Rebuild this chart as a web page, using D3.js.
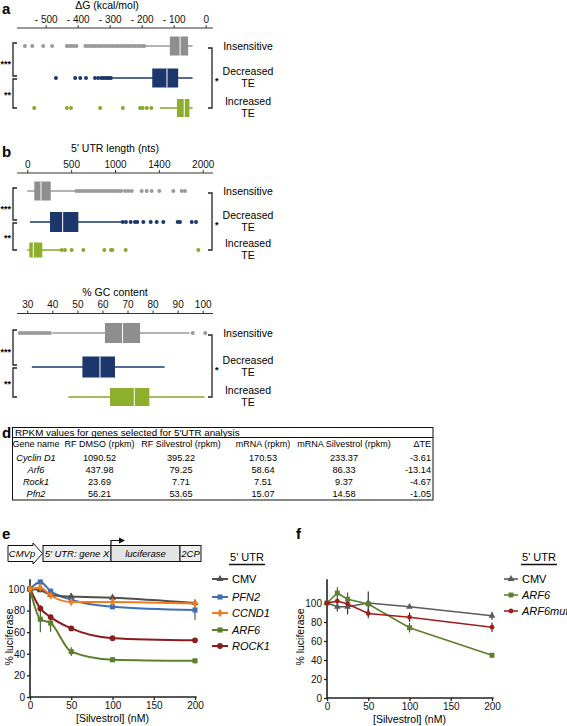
<!DOCTYPE html>
<html><head><meta charset="utf-8">
<script src="https://cdn.jsdelivr.net/npm/d3@7"></script>
<style>
body{margin:0;background:#fff;}
svg{display:block;font-family:"Liberation Sans",Arial,Helvetica,sans-serif;}
</style></head><body>
<svg id="fig" width="567" height="726"></svg>
<script>
// ---------------- DATA ----------------
const groupNames = ["Insensitive", "Decreased TE", "Increased TE"];

// panel a: ΔG (kcal/mol) boxes: [whiskerLow, q1, median, q3, whiskerHigh]
const dGTicks = [-500, -400, -300, -200, -100, 0];
const dGTickLabels = ["- 500", "- 400", "- 300", "- 200", "- 100", "0"];
const dGBoxes = [
  [-188, -112, -80, -55, -41],
  [-290, -167, -121, -86, -41],
  [-143, -90, -67, -51, -41]
];
const dGOutliers = [
  [-565, -542, -508, -480, -434, -427, -420, -412, -404, -376, -368, -360, -352, -345, -337, -330, -322, -314, -306, -298, -290, -282, -275, -267, -259, -251, -243, -236, -228, -220, -212, -205, -197, -192],
  [-468, -408, -392, -374, -346, -336, -326, -320, -314, -308, -302, -296],
  [-536, -434, -421, -330, -259, -205, -197, -184, -170]
];

// panel b: 5' UTR length (nts)
const lenTicks = [0, 500, 1000, 1500, 2000];
const lenTickLabels = ["0", "500", "1000", "1400", "2000"];
const lenBoxes = [
  [0, 80, 156, 267, 544],
  [31, 259, 403, 582, 1076],
  [0, 23, 68, 171, 373]
];
const lenOutliers = [
  [560, 590, 620, 650, 680, 710, 740, 770, 800, 830, 860, 890, 920, 950, 980, 1010, 1040, 1070, 1115, 1152, 1190, 1304, 1361, 1418, 1505, 1665, 1760, 1798],
  [1088, 1125, 1179, 1228, 1254, 1323, 1407, 1475, 1551, 1715, 1741, 1875, 1924],
  [392, 430, 506, 639, 878, 954, 969, 1122, 1950]
];

// % GC content
const gcTicks = [30, 40, 50, 60, 70, 80, 90, 100];
const gcTickLabels = ["30", "40", "50", "60", "70", "80", "90", "100"];
const gcBoxes = [
  [40, 61, 68, 75, 94.7],
  [31.8, 52, 59, 65, 84.8],
  [46.4, 63, 72.7, 78.7, 100.7]
];
const gcOutliers = [
  [27, 28, 29, 30, 31, 32, 33, 34, 35, 36, 37, 38, 39, 96, 101],
  [],
  []
];
const leftStars = ["***", "**"];
const rightStar = "*";

// panel d: table
const tableTitle = "RPKM values for genes selected for 5'UTR analysis";
const tableHeader = ["Gene name", "RF DMSO (rpkm)", "RF Silvestrol (rpkm)", "mRNA (rpkm)", "mRNA Silvestrol (rpkm)", "ΔTE"];
const geneNames = ["Cyclin D1", "Arf6", "Rock1", "Pfn2"];
const rfDMSO = [1090.52, 437.98, 23.69, 56.21];
const rfSilvestrol = [395.22, 79.25, 7.71, 53.65];
const mRNA = [170.53, 58.64, 7.51, 15.07];
const mRNASilvestrol = [233.37, 86.33, 9.37, 14.58];
const deltaTE = [-3.61, -13.14, -4.67, -1.05];

// panel e / f: luciferase vs silvestrol
const conc = [0, 12.5, 25, 50, 100, 200];
const concTicks = [0, 50, 100, 150, 200];
const pctTicks = [0, 20, 40, 60, 80, 100];
const eNames = ["CMV", "PFN2", "CCND1", "ARF6", "ROCK1"];
const eCMV = [100, 99, 94.5, 93, 92, 87];
const ePFN2 = [100, 106.5, 98, 90, 83.5, 80.5];
const eCCND1 = [100, 101.5, 94, 88, 88, 86.5];
const eARF6 = [100, 72, 68.5, 42, 34.5, 33.5];
const eROCK1 = [100, 82, 74, 63.5, 54.5, 52.5];
const eCMVErr = [0, 2, 2, 3, 2, 3];
const ePFN2Err = [0, 2, 2, 1.5, 2, 9];
const eCCND1Err = [0, 1.5, 1.5, 1.5, 1.5, 2];
const eARF6Err = [0, 12, 8, 4, 2, 2];
const eROCK1Err = [0, 3, 2, 1.5, 1.5, 1.5];

const fNames = ["CMV", "ARF6", "ARF6mut"];
const fCMV = [100, 96, 96, 100, 96, 86.5];
const fARF6 = [100, 110.5, 104, 99, 74, 45];
const fARF6mut = [100, 102, 99, 89, 85, 74.5];
const fCMVErr = [0, 5, 8, 12, 1.5, 4];
const fARF6Err = [0, 6, 7, 1.5, 5, 2.5];
const fARF6mutErr = [0, 3, 3, 5, 5, 5];

// ---------------- STYLE ----------------
const FONT = '"Liberation Sans", Arial, Helvetica, sans-serif';
const boxColors = ["#8e8e8e", "#1c376c", "#8cb02c"];
const whiskColors = ["#9a9a9a", "#1c376c", "#86a92a"];
const svg = d3.select("#fig");

function letter(t, x, y) {
  svg.append("text").attr("x", x).attr("y", y).attr("font-size", 15)
    .attr("font-weight", "bold").text(t);
}

// ---------------- BOX PANELS ----------------
function boxPanel(cfg) {
  const g = svg.append("g");
  const x = d3.scaleLinear().domain(cfg.domain).range(cfg.range);
  g.append("text").attr("x", cfg.titleX).attr("y", cfg.titleY).attr("text-anchor", "middle")
    .attr("font-size", 10.5).text(cfg.title);
  const ax = g.append("g").attr("transform", `translate(0,${cfg.axisY})`)
    .call(d3.axisTop(x).tickValues(cfg.ticks).tickFormat((d, i) => cfg.labels[i]).tickSize(3).tickPadding(2.5));
  ax.select(".domain").remove();
  ax.selectAll("text").attr("font-size", 10).attr("font-family", FONT).attr("fill", "#111");
  ax.selectAll("line").attr("stroke", "#333");
  g.append("line").attr("x1", 17).attr("x2", 213).attr("y1", cfg.axisY).attr("y2", cfg.axisY)
    .attr("stroke", "#333").attr("stroke-width", 1);

  cfg.rows.forEach((ry, i) => {
    const b = cfg.boxes[i], h = cfg.heights[i];
    g.append("line").attr("x1", x(b[0])).attr("x2", x(b[4])).attr("y1", ry).attr("y2", ry)
      .attr("stroke", whiskColors[i]).attr("stroke-width", 1.6);
    g.selectAll(null).data(cfg.outliers[i]).join("circle")
      .attr("cx", d => x(d)).attr("cy", ry).attr("r", 2).attr("fill", whiskColors[i]);
    g.append("rect").attr("x", x(b[1])).attr("y", ry - h / 2).attr("width", x(b[3]) - x(b[1]))
      .attr("height", h).attr("fill", boxColors[i]);
    g.append("line").attr("x1", x(b[2])).attr("x2", x(b[2])).attr("y1", ry - h / 2).attr("y2", ry + h / 2)
      .attr("stroke", "#fff").attr("stroke-width", 1);
  });
  // row labels
  const lx = 248;
  g.append("text").attr("x", lx).attr("y", cfg.rows[0] + 3.8).attr("text-anchor", "middle").attr("font-size", 10.5).text(groupNames[0]);
  [1, 2].forEach(i => {
    const parts = groupNames[i].split(" ");
    g.append("text").attr("x", lx).attr("y", cfg.rows[i] - 7 + 3.8).attr("text-anchor", "middle").attr("font-size", 10.5).text(parts[0]);
    g.append("text").attr("x", lx).attr("y", cfg.rows[i] + 5 + 3.8).attr("text-anchor", "middle").attr("font-size", 10.5).text(parts[1]);
  });
  // brackets
  const r = cfg.rows;
  const br = (x0, y0, y1, dir) => {
    g.append("path").attr("d", `M${x0 + dir * 4},${y0}H${x0}V${y1}H${x0 + dir * 4}`)
      .attr("fill", "none").attr("stroke", "#222").attr("stroke-width", 1.3);
  };
  br(13, r[0] - 3, r[1] - 2, 1);
  br(13, r[1] + 1, r[2], 1);
  g.append("text").attr("x", 11).attr("y", (r[0] + r[1]) / 2 + 5).attr("text-anchor", "end")
    .attr("font-size", 9).attr("font-weight", "bold").text(leftStars[0]);
  g.append("text").attr("x", 11).attr("y", (r[1] + r[2]) / 2 + 5).attr("text-anchor", "end")
    .attr("font-size", 9).attr("font-weight", "bold").text(leftStars[1]);
  br(212, r[0] + 2, r[2], -1);
  g.append("text").attr("x", 215).attr("y", r[1] + 6).attr("font-size", 9)
    .attr("font-weight", "bold").text(rightStar);
}

letter("a", 2, 14);
boxPanel({
  domain: [-500, 0], range: [45.7, 205.7], ticks: dGTicks, labels: dGTickLabels,
  title: "ΔG (kcal/mol)", titleX: 107, titleY: 9, axisY: 28, rows: [46, 78, 108], heights: [19, 19, 18],
  boxes: dGBoxes, outliers: dGOutliers
});
letter("b", 2, 157);
boxPanel({
  domain: [0, 2000], range: [27.3, 202.7], ticks: lenTicks, labels: lenTickLabels,
  title: "5' UTR length (nts)", titleX: 115, titleY: 152, axisY: 173, rows: [191, 222, 250], heights: [19, 20, 15],
  boxes: lenBoxes, outliers: lenOutliers
});
boxPanel({
  domain: [30, 100], range: [27.3, 202.7], ticks: gcTicks, labels: gcTickLabels,
  title: "% GC content", titleX: 115, titleY: 296, axisY: 313.5, rows: [333, 367, 397], heights: [20, 21, 18],
  boxes: gcBoxes, outliers: gcOutliers
});

// ---------------- TABLE ----------------
letter("d", 2, 438);
(function () {
  const g = svg.append("g");
  const fmt = v => v.toFixed(2);
  const colX = [36, 99.5, 181, 263, 344, 431];
  const anchors = ["middle", "middle", "middle", "middle", "middle", "end"];
  g.append("rect").attr("x", 12.5).attr("y", 427.5).attr("width", 420.5).attr("height", 72.5)
    .attr("fill", "none").attr("stroke", "#111").attr("stroke-width", 1);
  g.append("line").attr("x1", 12.5).attr("x2", 433).attr("y1", 437.5).attr("y2", 437.5)
    .attr("stroke", "#111").attr("stroke-width", 1);
  g.append("text").attr("x", 15).attr("y", 435.5).attr("font-size", 9.8).text(tableTitle);
  tableHeader.forEach((h, i) => {
    g.append("text").attr("x", colX[i]).attr("y", 446.5).attr("text-anchor", anchors[i])
      .attr("font-size", 9).text(h);
  });
  const cols = [geneNames, rfDMSO, rfSilvestrol, mRNA, mRNASilvestrol, deltaTE];
  geneNames.forEach((gn, r) => {
    const y = 458 + r * 11.9 + 3.3;
    cols.forEach((c, i) => {
      g.append("text").attr("x", colX[i]).attr("y", y).attr("text-anchor", anchors[i])
        .attr("font-size", 9.2).attr("font-style", i === 0 ? "italic" : "normal")
        .text(i === 0 ? c[r] : fmt(c[r]));
    });
  });
})();

// ---------------- LINE PANELS ----------------
function linePanel(cfg) {
  const g = svg.append("g");
  const x = d3.scaleLinear().domain([0, 200]).range(cfg.xr);
  const y = d3.scaleLinear().domain([0, 100]).range(cfg.yr);
  const xa = g.append("g").attr("transform", `translate(0,${cfg.yr[0]})`)
    .call(d3.axisBottom(x).tickValues(concTicks).tickSize(3).tickPadding(2));
  const ya = g.append("g").attr("transform", `translate(${cfg.xr[0]},0)`)
    .call(d3.axisLeft(y).tickValues(pctTicks).tickSize(3).tickPadding(2));
  [xa, ya].forEach(a => {
    a.select(".domain").remove();
    a.selectAll("text").attr("font-size", 10).attr("font-family", FONT).attr("fill", "#111");
    a.selectAll("line").attr("stroke", "#222").attr("stroke-width", 1.3);
  });
  g.append("path").attr("d", `M${cfg.xr[0]},${y(cfg.yTop)}V${cfg.yr[0]}H${x(cfg.xEnd)}`)
    .attr("fill", "none").attr("stroke", "#222").attr("stroke-width", 1.6);
  g.append("text").attr("x", (cfg.xr[0] + cfg.xr[1]) / 2).attr("y", cfg.yr[0] + 25)
    .attr("text-anchor", "middle").attr("font-size", 10.5).text("[Silvestrol] (nM)");
  g.append("text").attr("transform", `translate(${cfg.ylabX},${cfg.ylabY}) rotate(-90)`)
    .attr("text-anchor", "middle").attr("font-size", 10.5).text("% luciferase");

  const line = d3.line().x((d, i) => x(conc[i])).y(d => y(d)).curve(cfg.curve);
  cfg.series.forEach(s => {
    s.vals.forEach((v, i) => {
      if (s.err[i] > 0) {
        g.append("line").attr("x1", x(conc[i])).attr("x2", x(conc[i]))
          .attr("y1", y(v - s.err[i])).attr("y2", y(v + s.err[i]))
          .attr("stroke", s.errColor).attr("stroke-width", 1.1);
      }
    });
  });
  cfg.series.forEach(s => {
    g.append("path").attr("d", line(s.vals)).attr("fill", "none")
      .attr("stroke", s.color).attr("stroke-width", cfg.lw);
    g.selectAll(null).data(s.vals).join("path")
      .attr("transform", (d, i) => `translate(${x(conc[i])},${y(d)})`)
      .attr("d", d3.symbol().type(s.sym).size(s.size)).attr("fill", s.color);
  });
  // legend
  g.append("text").attr("x", cfg.legCx).attr("y", 561).attr("text-anchor", "middle")
    .attr("font-size", 11).text("5' UTR");
  g.append("line").attr("x1", cfg.legCx - 18).attr("x2", cfg.legCx + 18).attr("y1", 564.5).attr("y2", 564.5)
    .attr("stroke", "#111").attr("stroke-width", 1.3);
  cfg.series.slice().sort((a, b) => a.order - b.order).forEach((s, k) => {
    const ly = cfg.legY[k];
    g.append("line").attr("x1", cfg.legX0).attr("x2", cfg.legX0 + cfg.legW).attr("y1", ly).attr("y2", ly)
      .attr("stroke", s.color).attr("stroke-width", cfg.lw);
    g.append("path").attr("transform", `translate(${cfg.legX0 + cfg.legW / 2},${ly})`)
      .attr("d", d3.symbol().type(s.sym).size(s.size)).attr("fill", s.color);
    g.append("text").attr("x", cfg.legX0 + cfg.legW + 4).attr("y", ly + 4).attr("font-size", 11)
      .attr("font-style", s.name === "CMV" ? "normal" : "italic").text(s.name);
  });
}

letter("e", 2, 539);
// schematic
(function () {
  const g = svg.append("g").attr("font-style", "italic").attr("font-size", 9.5);
  g.append("polygon").attr("points", "8,545.5 33,545.5 33,543 42.5,553.5 33,564 33,561.5 8,561.5")
    .attr("fill", "#fff").attr("stroke", "#111").attr("stroke-width", 1);
  g.append("text").attr("x", 22).attr("y", 557).attr("text-anchor", "middle").text("CMVp");
  const boxes = [[43, 111, "5' UTR: gene X", "#ededed"], [111, 180, "luciferase", "#e4e4e4"], [180, 201, "2CP", "#ededed"]];
  boxes.forEach(b => {
    g.append("rect").attr("x", b[0]).attr("y", 545.5).attr("width", b[1] - b[0]).attr("height", 16)
      .attr("fill", b[3]).attr("stroke", "#111").attr("stroke-width", 1);
    g.append("text").attr("x", (b[0] + b[1]) / 2).attr("y", 557).attr("text-anchor", "middle").text(b[2]);
  });
  g.append("path").attr("d", "M111,545.5V540.5H120").attr("fill", "none").attr("stroke", "#111").attr("stroke-width", 1.2);
  g.append("polygon").attr("points", "119,537.5 125,540.5 119,543.5").attr("fill", "#111");
})();

linePanel({
  xr: [30, 195], yr: [697, 589], yTop: 109, xEnd: 202, lw: 2, curve: d3.curveMonotoneX,
  ylabX: 13, ylabY: 637, legCx: 247, legX0: 212, legW: 16, legY: [579, 597, 613, 630, 646],
  series: [
    { name: "PFN2", vals: ePFN2, err: ePFN2Err, color: "#3f6fb6", errColor: "#444", sym: d3.symbolSquare, size: 26, order: 1 },
    { name: "CMV", vals: eCMV, err: eCMVErr, color: "#4f4f4f", errColor: "#333", sym: d3.symbolTriangle, size: 22, order: 0 },
    { name: "ROCK1", vals: eROCK1, err: eROCK1Err, color: "#8e1b1b", errColor: "#5a1010", sym: d3.symbolCircle, size: 26, order: 4 },
    { name: "ARF6", vals: eARF6, err: eARF6Err, color: "#5b7f2b", errColor: "#3b5a1b", sym: d3.symbolSquare, size: 26, order: 3 },
    { name: "CCND1", vals: eCCND1, err: eCCND1Err, color: "#f47b20", errColor: "#c85a10", sym: d3.symbolDiamond, size: 22, order: 2 }
  ]
});

letter("f", 296, 539);
linePanel({
  xr: [327, 492], yr: [698, 603], yTop: 125, xEnd: 202, lw: 1.6, curve: d3.curveLinear,
  ylabX: 304, ylabY: 637, legCx: 539, legX0: 504, legW: 14, legY: [579, 595, 611],
  series: [
    { name: "CMV", vals: fCMV, err: fCMVErr, color: "#5a5a5a", errColor: "#222", sym: d3.symbolTriangle, size: 20, order: 0 },
    { name: "ARF6", vals: fARF6, err: fARF6Err, color: "#5b7f2b", errColor: "#3b5a1b", sym: d3.symbolSquare, size: 24, order: 1 },
    { name: "ARF6mut", vals: fARF6mut, err: fARF6mutErr, color: "#a21c1c", errColor: "#6a1010", sym: d3.symbolCircle, size: 18, order: 2 }
  ]
});
</script>
</body></html>
